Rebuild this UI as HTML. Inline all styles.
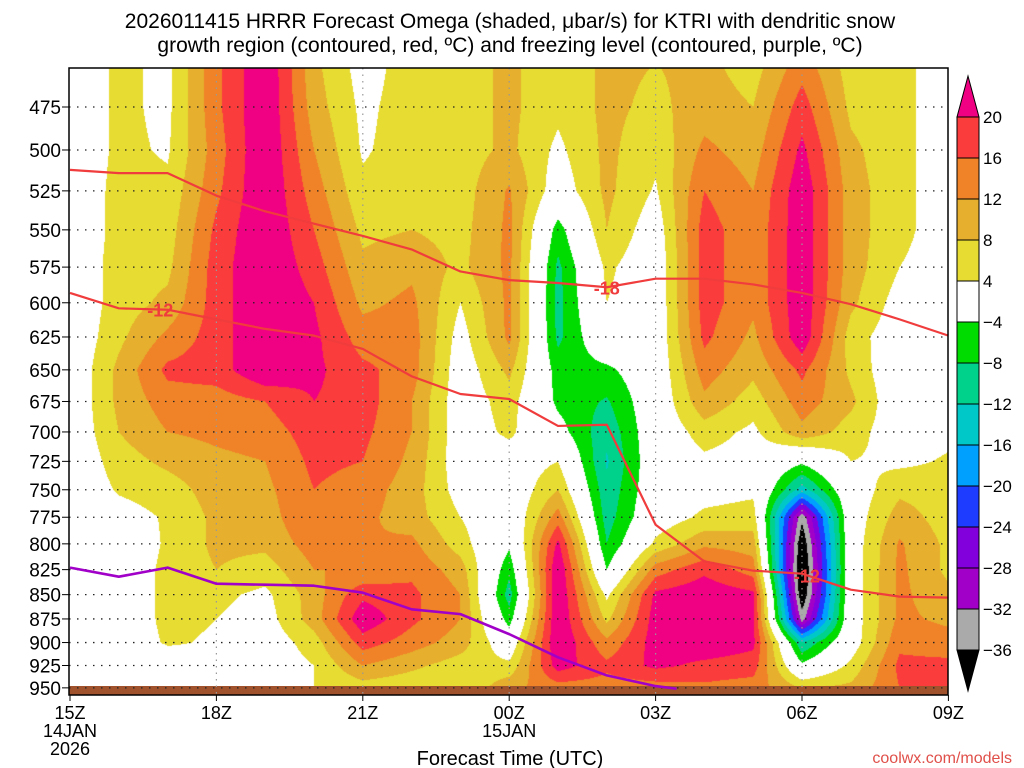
<!DOCTYPE html>
<html><head><meta charset="utf-8">
<style>
html,body{margin:0;padding:0;background:#fff;}
#wrap{position:relative;width:1024px;height:768px;overflow:hidden;font-family:"Liberation Sans",sans-serif;}
canvas,svg{position:absolute;left:0;top:0;}
</style></head>
<body>
<div id="wrap">
<canvas id="cv" width="1024" height="768"></canvas>
<svg id="sv" width="1024" height="768"></svg>
</div>
<script>
// ---- data ----
const hours=[0,1,2,3,4,5,6,7,8,9,10,11,12,13,14,15,16,17,18];
const hourLabels=["15Z","","","18Z","","","21Z","","","00Z","","","03Z","","","06Z","","","09Z"];
const levels=[450,475,500,525,550,575,600,625,650,675,700,725,750,775,800,825,850,875,900,925,950];
const levelLabels=[475,500,525,550,575,600,625,650,675,700,725,750,775,800,825,850,875,900,925,950];
const omegaH0=[0,0,0,0,0,0,0,0,0,0,0,0,0,0,0,0,0,0,0,0,0];
const omegaH1=[5,5,5,5.5,5.5,6,6,7,9,9,8,6,4.5,2,1,1,1,1,1,0,0];
const omegaH2=[3,3,3.5,5,6,7,9,13,17,14,12,9,6,4.5,4.5,5,5,5,4.5,1,1];
const omegaH3=[15,15,14,15,17,18,18,18,18,14,13,11,10,9,9,8,5,4,3.5,3,2];
const omegaH4=[24,24,24,24,24,24,24,24,24,16,14,12,11,10,9,6,3,2,1,1,2];
const omegaH5=[9,10,12,14,16,18,20,21,21,20,18,17,16,16,14,12,10,10,6,4,4];
const omegaH6=[2,3,3.5,5,7,9,11,14,17,18,17,16,14,13,12,12,19,23,18,12,6];
const omegaH7=[6,6,6,6,8,11,13,14,14,12,12,11,10,10,13,15,17,17,14,9,5];
const omegaH8=[6,6,6,6,6.5,7,4,2,1,1,1,1,2,4,6,10,12,12,10,6,4];
const omegaH9=[9,9,9,12.5,13,13,13,13,9,6,5,1,0,-1,-3,-7,-10,-6,0,5,11];
const omegaH10=[5,5,3,1,-6,-9,-9.5,-9,-6,-5,-2,4,8,14,21,24,24,24,24,22,14];
const omegaH11=[9,9,9,9,8,5,4,1,-5,-8.5,-11,-12.5,-11,-10,-8,-4,3,7,13,17,14];
const omegaH12=[8,7,5,3.5,1,0,0,0,0,0,0,0,0,1,5,14,21,22,22,21,14];
const omegaH13=[9,10,13,16,18,18,18,17,14,11,6,3,2,5,11,19,23,23,23,19,15];
const omegaH14=[6,8,10,12,13,13,13,11,9,6,3,2,3,6,10,14,21,21,21,18,14];
const omegaH15=[14,18,21,23,23,23,23,23,17,14,11,-3,-14,-35,-40,-42,-40,-34,-12,-3,8];
const omegaH16=[6,7,9,10,10,10,9,6,7,9,6,4,1,1,1,1,1,1,1,5,9];
const omegaH17=[5,5,5,5,5,4,2,1,0,0,1,3,7,10,12.5,13,13,13,15,17,16];
const omegaH18=[2,2,2,2,2,2,2,2,2,2,3,4.5,6,6,7,7,9,11,14,17,17];
const omega=[omegaH0,omegaH1,omegaH2,omegaH3,omegaH4,omegaH5,omegaH6,omegaH7,omegaH8,omegaH9,omegaH10,omegaH11,omegaH12,omegaH13,omegaH14,omegaH15,omegaH16,omegaH17,omegaH18];
const minus18P=[512,514,514,528,538,546,554,563,578,584,586,589,583,583,587,593,601,612,624];
const minus12P=[593,604,605,612,619,624,634,655,669,673,695,694,782,817,826,829,845,852,853];
const frzHours=[0,1,2,3,4,5,6,7,8,9,10,11,12,12.43];
const frzP=[823,832,823,839,840,841,848,865,870,891,916,936,948,951];
const cbarLabels=[20,16,12,8,4,-4,-8,-12,-16,-20,-24,-28,-32,-36];
const cbarColors=["#f00082","#fa3c3c","#f08228","#e6af2d","#e6dc32","#ffffff","#00dc00","#00d28c","#00c8c8","#00a0ff","#1e3cff","#8200dc","#a000c8","#aaaaaa","#000000"];

// ---- geometry ----
const X0=69,X1=948,Y0=68,Y1=695;
const xOf=h=>70+h*48.8;
const yOf=p=>107+838*(Math.log(p)-Math.log(475));
const pOfY=y=>Math.exp(Math.log(475)+(y-107)/838);
function colorOf(v){
  if(v>=20)return cbarColors[0];
  for(let i=1;i<cbarLabels.length;i++){ if(v>=cbarLabels[i]) return cbarColors[i]; }
  return cbarColors[14];
}
function hex(c){return [parseInt(c.substr(1,2),16),parseInt(c.substr(3,2),16),parseInt(c.substr(5,2),16)];}
const cv=document.getElementById('cv');const ctx=cv.getContext('2d');
ctx.fillStyle="#fff";ctx.fillRect(0,0,1024,768);
const img=ctx.createImageData(X1-X0,Y1-Y0);
for(let py=Y0;py<Y1;py++){
  const p=pOfY(py+0.5);
  let li=(p-levels[0])/25; li=Math.max(0,Math.min(levels.length-1.0001,li));
  const l0=Math.floor(li),lf=li-l0;
  for(let px=X0;px<X1;px++){
    let hi=(px+0.5-70)/48.8; hi=Math.max(0,Math.min(hours.length-1.0001,hi));
    const hA=Math.floor(hi),hf=hi-hA;
    const a=omega[hA][l0]*(1-lf)+omega[hA][l0+1]*lf;
    const b=omega[hA+1][l0]*(1-lf)+omega[hA+1][l0+1]*lf;
    const v=a*(1-hf)+b*hf;
    const c=hex(colorOf(v));
    const k=((py-Y0)*(X1-X0)+(px-X0))*4;
    img.data[k]=c[0];img.data[k+1]=c[1];img.data[k+2]=c[2];img.data[k+3]=255;
  }
}
ctx.putImageData(img,X0,Y0);

// ---- svg overlay ----
const NS="http://www.w3.org/2000/svg";const sv=document.getElementById('sv');
function el(t,a,parent){const e=document.createElementNS(NS,t);for(const k in a)e.setAttribute(k,a[k]);(parent||sv).appendChild(e);return e;}
function txt(s,a,parent){const e=el('text',a,parent);e.textContent=s;return e;}

const g=el('rect',{x:X0,y:686,width:X1-X0,height:Y1-686,fill:"#a0522d"});



hourLabels.forEach((l,i)=>{
  if(l&&i>0&&i<hours.length-1){
    const v=el('line',{x1:xOf(hours[i]),x2:xOf(hours[i]),y1:Y0,y2:Y1,stroke:"#999",'stroke-width':1.2,'stroke-dasharray':"1.5 5"});
    
    
  }
});
levelLabels.forEach(p=>{
  const y=yOf(p);
  const h=el('line',{x1:X0,x2:X1,y1:y,y2:y,stroke:"#222",'stroke-width':1.3,'stroke-dasharray':"1.5 6.5"});
  
  
  const tk=el('line',{x1:X0-7,x2:X0,y1:y,y2:y,stroke:"#000",'stroke-width':1});
  
  
  const t=txt(String(p),{x:X0-8,y:y+7,'text-anchor':'end','font-size':19,fill:'#000'});
  
  
});
function poly(hs,ps,color,w,name){
  const pts=hs.map((h,i)=>xOf(h)+","+yOf(ps[i])).join(" ");
  const e=el('polyline',{points:pts,fill:'none',stroke:color,'stroke-width':w,'stroke-linejoin':'round'});
  
  
}
poly(hours,minus18P,"#f03c3c",2.2,'dgz-minus18-contour');
poly(hours,minus12P,"#f03c3c",2.2,'dgz-minus12-contour');
poly(frzHours,frzP,"#a000c8",2.6,'freezing-level-line');
[["-12",1.85,minus12P],["-18",11,minus18P],["-12",15.1,minus12P]].forEach(d=>{
  const h=d[1],i=Math.floor(h),f=h-i;const p=d[2][i]*(1-f)+d[2][i+1]*f;
  const t=txt(d[0],{x:xOf(h),y:yOf(p)+7,'text-anchor':'middle','font-size':18,'font-weight':'bold',fill:'#f03c3c'});
  
  
});
const fr=el('rect',{x:X0,y:Y0,width:X1-X0,height:Y1-Y0,fill:'none',stroke:'#000','stroke-width':1.5});


const subl={0:["14JAN","2026"],9:["15JAN"]};
hourLabels.forEach((l,i)=>{
  if(!l)return;
  const x=xOf(hours[i]);
  const tk=el('line',{x1:x,x2:x,y1:Y1,y2:Y1+6,stroke:'#000','stroke-width':1});
  
  
  const t=txt(l,{x:x,y:719,'text-anchor':'middle','font-size':18,fill:'#000'});
  
  
  (subl[i]||[]).forEach((s,j)=>{
    const u=txt(s,{x:x,y:737+j*18,'text-anchor':'middle','font-size':18,fill:'#000'});
    
    
  });
});
const CBX=957,CBW=22,CBT=117,SEG=41;
const tri=el('polygon',{points:`${CBX},${CBT} ${CBX+CBW},${CBT} ${CBX+CBW/2},${CBT-41}`,fill:cbarColors[0],stroke:'#000','stroke-width':1});


for(let i=1;i<cbarLabels.length;i++){
  const r=el('rect',{x:CBX,y:CBT+(i-1)*SEG,width:CBW,height:SEG,fill:cbarColors[i],stroke:'#000','stroke-width':1});
  
  
}
const bt=CBT+(cbarLabels.length-1)*SEG;
const tri2=el('polygon',{points:`${CBX},${bt} ${CBX+CBW},${bt} ${CBX+CBW/2},${bt+41}`,fill:'#000',stroke:'#000','stroke-width':1});


cbarLabels.forEach((l,i)=>{
  const t=txt(l<0?"\u2212"+(-l):String(l),{x:CBX+CBW+4,y:CBT+i*SEG+6,'font-size':17,fill:'#000'});
  
  
});
const t1=txt("2026011415 HRRR Forecast Omega (shaded, \u03bcbar/s) for KTRI with dendritic snow",{x:510,y:28,'text-anchor':'middle','font-size':21,fill:'#000'});


const t2=txt("growth region (contoured, red, \u00baC) and freezing level (contoured, purple, \u00baC)",{x:510,y:52,'text-anchor':'middle','font-size':21,fill:'#000'});


const xt=txt("Forecast Time (UTC)",{x:510,y:765,'text-anchor':'middle','font-size':20,fill:'#000'});


const cr=txt("coolwx.com/models",{x:1012,y:763,'text-anchor':'end','font-size':16,fill:'#e0504a'});


</script>
</body></html>
